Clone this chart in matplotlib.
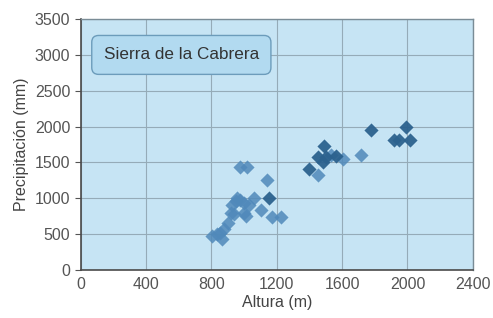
import matplotlib.pyplot as plt

plt.rcParams['font.family'] = ['Liberation Sans', 'DejaVu Sans']

# altitude (m) / precipitation (mm)
alt_light = [805, 835, 850, 866, 876, 900, 920, 927, 937, 950, 958, 975, 999, 999, 1009,
             1030, 1060, 974, 1019, 1138, 1106, 1173, 1225,
             1450, 1532, 1604, 1717]
prec_light = [480, 500, 520, 430, 570, 660, 800, 900, 780, 960, 1010, 980, 940, 800, 760,
              900, 1010, 1440, 1440, 1260, 830, 740, 740,
              1320, 1610, 1550, 1610]

alt_dark = [1153, 1399, 1450, 1481, 1491, 1502, 1563, 1774, 1920, 1950, 2015, 1990]
prec_dark = [1000, 1410, 1570, 1500, 1730, 1570, 1590, 1950, 1820, 1820, 1820, 2000]

xticks = [0, 400, 800, 1200, 1600, 2000, 2400]
yticks = [0, 500, 1000, 1500, 2000, 2500, 3000, 3500]

fig = plt.figure(figsize=(4.93, 3.18), dpi=100)
ax = fig.add_axes([0.164, 0.151, 0.795, 0.789])
ax.set_facecolor('#c6e4f4')

ax.scatter(alt_light, prec_light, marker='D', s=52, color='#5089ba', alpha=0.85,
           linewidths=0, zorder=3)
ax.scatter(alt_dark, prec_dark, marker='D', s=52, color='#2c628e', alpha=0.95,
           linewidths=0, zorder=4)

ax.set_xlim(0, 2400)
ax.set_ylim(0, 3500)
ax.set_xticks(xticks)
ax.set_yticks(yticks)
ax.grid(True, color='#95abb8', linewidth=0.8)
ax.set_axisbelow(True)
ax.tick_params(labelsize=11.5, colors='#555555', length=4, width=0.8)
ax.tick_params(axis='x', length=0, pad=5)

for side in ['left', 'bottom']:
    ax.spines[side].set_color('#4a4a4a')
    ax.spines[side].set_linewidth(1.2)
for side in ['top', 'right']:
    ax.spines[side].set_color('#7a8c96')
    ax.spines[side].set_linewidth(1.0)

ax.set_xlabel('Altura (m)', fontsize=11.5, color='#444444', labelpad=2)
ax.set_ylabel('Precipitación (mm)', fontsize=11.5, color='#444444', labelpad=4)

ax.text(140, 3000, 'Sierra de la Cabrera', fontsize=12.3, color='#333333', va='center',
        bbox=dict(boxstyle='round,pad=0.7,rounding_size=0.4', facecolor='#b2daf0',
                  edgecolor='#6c9cbb', linewidth=1))

fig.savefig('out.png', dpi=100)
